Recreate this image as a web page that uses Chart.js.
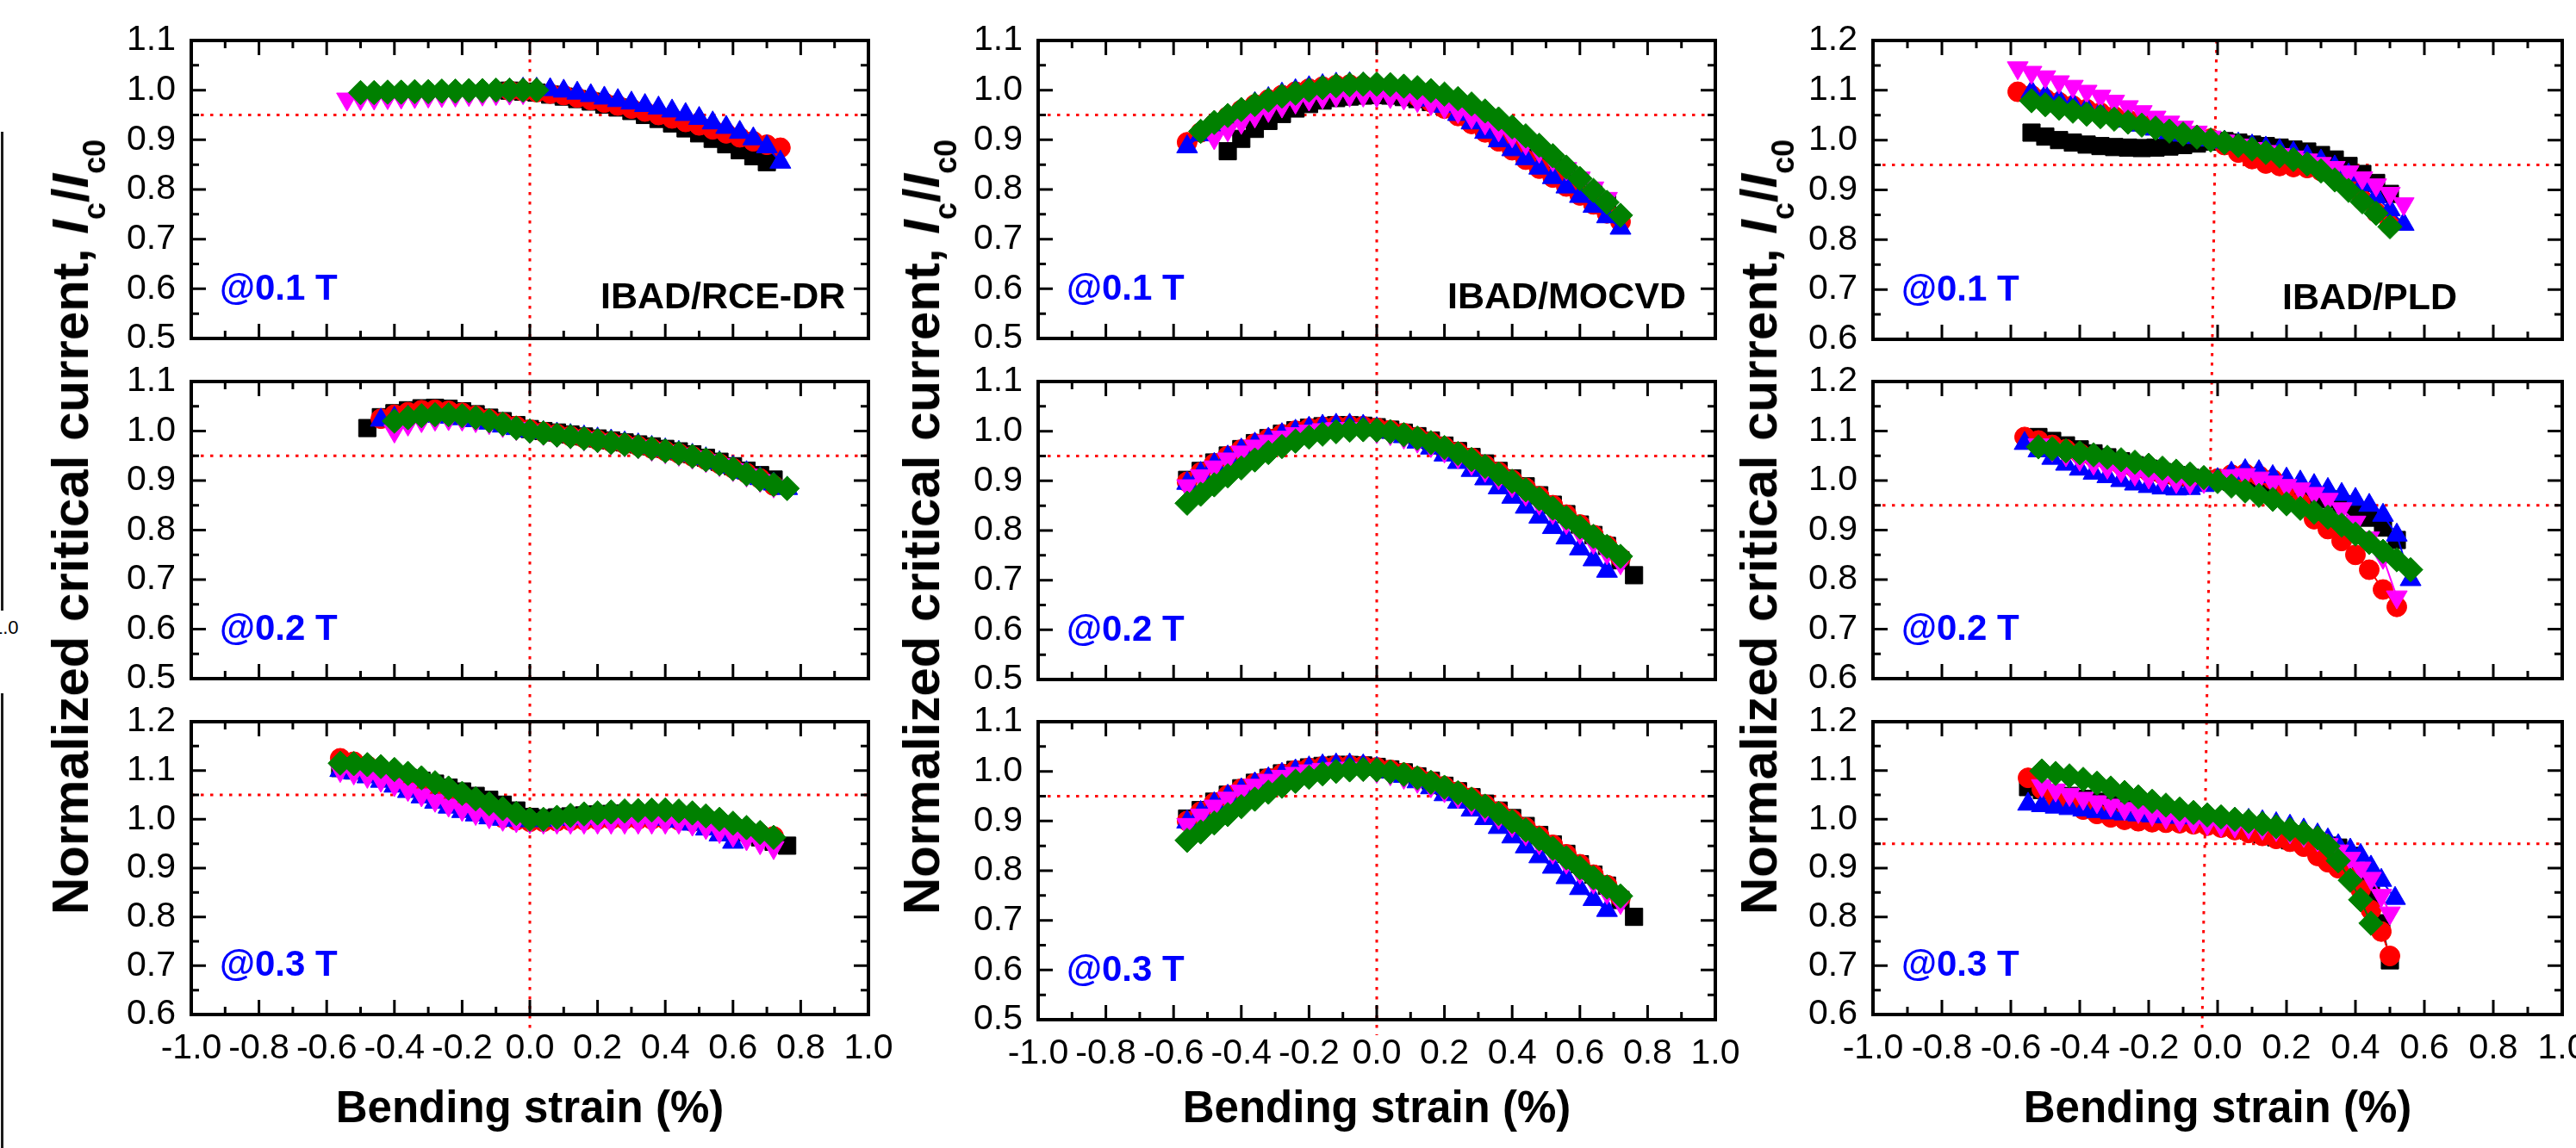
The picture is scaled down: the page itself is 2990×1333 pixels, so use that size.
<!DOCTYPE html>
<html><head><meta charset="utf-8">
<script src="https://cdn.jsdelivr.net/npm/chart.js@4.4.1/dist/chart.umd.min.js"></script>
<style>
html,body{margin:0;padding:0;background:#fff;}
body{width:2990px;height:1333px;position:relative;overflow:hidden;font-family:"Liberation Sans",Arial,sans-serif;}
canvas{position:absolute;}
.ytitle{position:absolute;white-space:nowrap;font-weight:bold;font-size:60px;line-height:60px;color:#000;transform:translate(-50%,-50%) rotate(-90deg);z-index:5;}
.ytitle .sb{font-size:36px;position:relative;top:20px;}
.stray{position:absolute;background:#1a1a1a;width:3px;left:1px;}
.strayTxt{position:absolute;left:-9px;top:716px;font-size:22px;color:#000;}
</style></head><body>
<div class="stray" style="top:153px;height:556px"></div>
<div class="stray" style="top:805px;height:528px"></div>
<div class="strayTxt">1.0</div>
<div class="ytitle" style="left:86px;top:612px">Normalized critical current, <i>I</i><span class="sb">c</span>/<i>I</i><span class="sb">c0</span></div>
<div class="ytitle" style="left:1074px;top:612px">Normalized critical current, <i>I</i><span class="sb">c</span>/<i>I</i><span class="sb">c0</span></div>
<div class="ytitle" style="left:2046px;top:612px">Normalized critical current, <i>I</i><span class="sb">c</span>/<i>I</i><span class="sb">c0</span></div>
<script>
// ---------------- DATA ----------------
const fieldLabels = ['@0.1 T', '@0.2 T', '@0.3 T'];
const sampleLabels = ['IBAD/RCE-DR', 'IBAD/MOCVD', 'IBAD/PLD'];
const xTitle = 'Bending strain (%)';
const yMinByPanel = [[0.5, 0.5, 0.6], [0.5, 0.5, 0.5], [0.6, 0.6, 0.6]];
const yMaxByPanel = [[1.1, 1.1, 1.2], [1.1, 1.1, 1.1], [1.2, 1.2, 1.2]];
const refLineY = [[0.95, 0.95, 1.05], [0.95, 0.95, 0.95], [0.95, 0.95, 0.95]];
const zeroLineX = [[[0, 0], [0, 0], [0, 0]], [[0, 0], [0, 0], [0, 0]], [[-0.003, -0.017], [-0.017, -0.032], [-0.032, -0.045]]];

// IBAD/RCE-DR @0.1 T
const rce1_x = [-0.54,-0.50,-0.46,-0.42,-0.38,-0.34,-0.30,-0.26,-0.22,-0.18,-0.14,-0.10,-0.06,-0.02,0.02,0.06,0.10,0.14,0.18,0.22,0.26,0.30,0.34,0.38,0.42,0.46,0.50,0.54,0.58,0.62,0.66,0.70,0.74];
const rce1_k = [null,null,null,null,null,null,null,null,null,null,null,null,0.999,0.997,0.995,0.991,0.987,0.982,0.977,0.971,0.965,0.958,0.950,0.942,0.933,0.923,0.913,0.902,0.891,0.879,0.867,0.855,null];
const rce1_r = [null,null,null,null,null,null,null,null,null,null,null,null,0.999,0.998,0.996,0.993,0.990,0.985,0.980,0.975,0.969,0.963,0.957,0.950,0.943,0.936,0.929,0.921,0.913,0.905,0.897,0.890,0.884];
const rce1_b = [null,null,null,null,null,null,null,null,null,null,null,null,1.000,1.002,1.002,1.001,0.998,0.994,0.989,0.984,0.979,0.974,0.969,0.964,0.958,0.951,0.943,0.934,0.925,0.915,0.902,0.886,0.855];
const rce1_m = [0.982,0.983,0.984,0.985,0.986,0.987,0.988,0.989,0.990,0.991,0.992,0.993,0.994,0.995,null,null,null,null,null,null,null,null,null,null,null,null,null,null,null,null,null,null,null];
const rce1_g = [null,0.995,0.995,0.996,0.996,0.997,0.997,0.998,0.998,0.999,0.999,1.000,1.000,1.000,1.000,null,null,null,null,null,null,null,null,null,null,null,null,null,null,null,null,null,null];

// IBAD/RCE-DR @0.2 T
const rce2_x = [-0.48,-0.44,-0.40,-0.36,-0.32,-0.28,-0.24,-0.20,-0.16,-0.12,-0.08,-0.04,0.00,0.04,0.08,0.12,0.16,0.20,0.24,0.28,0.32,0.36,0.40,0.44,0.48,0.52,0.56,0.60,0.64,0.68,0.72,0.76];
const rce2_k = [1.006,1.028,1.036,1.042,1.046,1.047,1.045,1.040,1.034,1.027,1.020,1.012,1.004,1.000,0.997,0.993,0.989,0.985,0.981,0.977,0.973,0.969,0.964,0.959,0.953,0.946,0.938,0.929,0.920,0.911,0.902,null];
const rce2_r = [null,1.025,1.033,1.038,1.042,1.043,1.041,1.037,1.031,1.024,1.017,1.010,1.003,0.998,0.994,0.990,0.986,0.982,0.978,0.974,0.970,0.965,0.960,0.955,0.949,0.942,0.934,0.925,0.915,0.904,0.890,null];
const rce2_b = [null,1.022,1.026,1.028,1.030,1.030,1.028,1.025,1.021,1.016,1.010,1.005,1.000,0.997,0.994,0.991,0.988,0.984,0.980,0.976,0.972,0.967,0.962,0.957,0.951,0.944,0.936,0.927,0.916,0.904,0.893,0.884];
const rce2_m = [null,null,1.000,1.014,1.021,1.024,1.025,1.024,1.021,1.017,1.011,1.005,0.999,0.995,0.991,0.988,0.984,0.980,0.976,0.972,0.968,0.963,0.958,0.953,0.947,0.940,0.932,0.922,0.911,0.900,0.889,null];
const rce2_g = [null,null,1.020,1.027,1.031,1.033,1.033,1.031,1.027,1.021,1.014,1.006,1.000,0.996,0.992,0.989,0.985,0.981,0.977,0.973,0.969,0.965,0.960,0.955,0.949,0.942,0.934,0.924,0.913,0.902,0.892,0.884];

// IBAD/RCE-DR @0.3 T
const rce3_x = [-0.56,-0.52,-0.48,-0.44,-0.40,-0.36,-0.32,-0.28,-0.24,-0.20,-0.16,-0.12,-0.08,-0.04,0.00,0.04,0.08,0.12,0.16,0.20,0.24,0.28,0.32,0.36,0.40,0.44,0.48,0.52,0.56,0.60,0.64,0.68,0.72,0.76];
const rce3_k = [1.105,1.100,1.096,1.093,1.089,1.085,1.079,1.073,1.065,1.057,1.048,1.040,1.030,1.018,1.005,1.002,1.004,1.006,1.008,1.010,1.011,1.012,1.012,1.012,1.010,1.007,1.003,0.997,0.990,0.982,0.973,0.963,0.954,0.946];
const rce3_r = [1.125,1.118,1.110,1.100,1.090,1.079,1.067,1.055,1.043,1.031,1.020,1.010,1.003,0.998,0.995,0.995,0.996,0.997,0.998,0.999,1.000,1.000,1.000,1.000,1.000,0.998,0.995,0.990,0.985,0.980,0.975,0.970,0.965,null];
const rce3_b = [1.100,1.095,1.087,1.078,1.068,1.057,1.046,1.035,1.025,1.016,1.009,1.003,1.000,0.998,0.997,0.998,1.000,1.001,1.002,1.003,1.004,1.004,1.004,1.003,1.000,0.996,0.990,0.980,0.968,0.953,null,null,null,null];
const rce3_m = [1.100,1.095,1.088,1.080,1.071,1.061,1.050,1.039,1.029,1.020,1.012,1.005,1.000,0.997,0.995,0.994,0.994,0.994,0.994,0.994,0.994,0.994,0.994,0.994,0.994,0.994,0.990,0.983,0.975,0.967,0.960,0.952,0.942,null];
const rce3_g = [1.115,1.114,1.112,1.108,1.102,1.094,1.085,1.075,1.064,1.053,1.042,1.032,1.022,1.012,1.000,1.000,1.004,1.008,1.011,1.013,1.015,1.017,1.018,1.019,1.019,1.017,1.013,1.007,1.000,0.992,0.983,0.973,0.963,null];

// IBAD/MOCVD @0.1 T
const moc1_x = [-0.56,-0.52,-0.48,-0.44,-0.40,-0.36,-0.32,-0.28,-0.24,-0.20,-0.16,-0.12,-0.08,-0.04,0.00,0.04,0.08,0.12,0.16,0.20,0.24,0.28,0.32,0.36,0.40,0.44,0.48,0.52,0.56,0.60,0.64,0.68,0.72];
const moc1_k = [null,null,null,0.877,0.902,0.922,0.938,0.952,0.963,0.972,0.979,0.984,0.987,0.989,0.990,0.989,0.986,0.982,0.976,0.968,0.958,0.947,0.934,0.920,0.904,0.887,0.869,0.850,0.830,0.810,0.790,0.775,null];
const moc1_r = [0.895,0.915,0.932,0.947,0.960,0.971,0.981,0.990,0.997,1.003,1.007,1.010,1.011,1.010,1.008,1.003,0.996,0.987,0.976,0.963,0.948,0.932,0.915,0.897,0.879,0.860,0.842,0.824,0.806,0.788,0.770,0.752,0.735];
const moc1_b = [0.886,0.910,0.930,0.947,0.961,0.973,0.983,0.992,0.999,1.005,1.009,1.012,1.013,1.012,1.010,1.005,0.999,0.990,0.980,0.967,0.951,0.934,0.915,0.898,0.880,0.862,0.843,0.824,0.805,0.786,0.766,0.745,0.722];
const moc1_m = [null,null,0.904,0.920,0.935,0.948,0.959,0.968,0.976,0.982,0.986,0.989,0.990,0.990,0.989,0.987,0.984,0.979,0.973,0.966,0.957,0.946,0.934,0.920,0.908,0.893,0.877,0.860,0.842,0.823,0.803,0.782,null];
const moc1_g = [null,0.917,0.935,0.949,0.961,0.971,0.980,0.988,0.994,1.000,1.005,1.009,1.011,1.012,1.012,1.011,1.008,1.005,0.999,0.992,0.983,0.972,0.958,0.942,0.926,0.908,0.889,0.868,0.845,0.822,0.798,0.774,0.748];

// IBAD/MOCVD @0.2 T
const moc2_x = [-0.56,-0.52,-0.48,-0.44,-0.40,-0.36,-0.32,-0.28,-0.24,-0.20,-0.16,-0.12,-0.08,-0.04,0.00,0.04,0.08,0.12,0.16,0.20,0.24,0.28,0.32,0.36,0.40,0.44,0.48,0.52,0.56,0.60,0.64,0.68,0.72,0.76];
const moc2_k = [0.902,0.920,0.937,0.951,0.964,0.976,0.986,0.995,1.002,1.007,1.010,1.012,1.012,1.011,1.008,1.003,0.997,0.990,0.981,0.971,0.960,0.948,0.935,0.920,0.905,0.889,0.871,0.852,0.833,0.812,0.791,0.769,0.740,0.710];
const moc2_r = [0.898,0.917,0.935,0.950,0.963,0.975,0.985,0.994,1.001,1.006,1.009,1.011,1.011,1.010,1.007,1.002,0.996,0.988,0.979,0.969,0.958,0.946,0.932,0.918,0.902,0.886,0.869,0.851,0.832,0.812,0.791,0.770,0.745,null];
const moc2_b = [0.895,0.915,0.933,0.948,0.962,0.974,0.984,0.993,1.000,1.006,1.010,1.012,1.012,1.010,1.005,0.998,0.989,0.978,0.966,0.952,0.937,0.921,0.904,0.886,0.867,0.847,0.827,0.806,0.785,0.763,0.741,0.718,null,null];
const moc2_m = [0.890,0.910,0.928,0.944,0.958,0.970,0.980,0.988,0.995,1.000,1.003,1.005,1.005,1.003,0.999,0.995,0.988,0.980,0.971,0.960,0.948,0.935,0.921,0.906,0.890,0.873,0.855,0.836,0.816,0.796,0.776,0.755,0.735,null];
const moc2_g = [0.855,0.873,0.892,0.910,0.926,0.942,0.957,0.969,0.980,0.988,0.994,0.999,1.002,1.003,1.002,0.999,0.993,0.986,0.977,0.967,0.955,0.943,0.929,0.914,0.899,0.882,0.864,0.845,0.826,0.807,0.788,0.768,0.748,null];

// IBAD/MOCVD @0.3 T
const moc3_x = [-0.56,-0.52,-0.48,-0.44,-0.40,-0.36,-0.32,-0.28,-0.24,-0.20,-0.16,-0.12,-0.08,-0.04,0.00,0.04,0.08,0.12,0.16,0.20,0.24,0.28,0.32,0.36,0.40,0.44,0.48,0.52,0.56,0.60,0.64,0.68,0.72,0.76];
const moc3_k = [0.905,0.922,0.939,0.953,0.966,0.977,0.987,0.996,1.003,1.008,1.011,1.013,1.013,1.012,1.009,1.004,0.998,0.990,0.981,0.971,0.960,0.948,0.935,0.921,0.906,0.890,0.872,0.853,0.834,0.813,0.792,0.770,0.741,0.707];
const moc3_r = [0.900,0.919,0.937,0.952,0.965,0.976,0.986,0.995,1.002,1.007,1.010,1.012,1.012,1.011,1.008,1.003,0.997,0.989,0.980,0.970,0.959,0.947,0.933,0.919,0.903,0.887,0.870,0.852,0.833,0.813,0.792,0.771,0.746,null];
const moc3_b = [0.898,0.917,0.935,0.950,0.963,0.975,0.985,0.994,1.001,1.007,1.011,1.013,1.013,1.011,1.006,0.999,0.990,0.979,0.967,0.953,0.938,0.922,0.905,0.887,0.868,0.848,0.828,0.807,0.786,0.764,0.742,0.720,null,null];
const moc3_m = [0.893,0.912,0.930,0.946,0.960,0.972,0.982,0.990,0.996,1.001,1.004,1.006,1.006,1.004,1.000,0.995,0.988,0.980,0.971,0.961,0.949,0.936,0.922,0.907,0.891,0.874,0.856,0.837,0.817,0.797,0.777,0.756,0.736,null];
const moc3_g = [0.861,0.878,0.896,0.913,0.929,0.944,0.958,0.970,0.980,0.988,0.995,1.000,1.003,1.004,1.003,0.999,0.994,0.987,0.978,0.968,0.957,0.944,0.930,0.915,0.899,0.882,0.864,0.845,0.826,0.806,0.786,0.767,0.749,null];

// IBAD/PLD @0.1 T
const pld1_x = [-0.58,-0.54,-0.50,-0.46,-0.42,-0.38,-0.34,-0.30,-0.26,-0.22,-0.18,-0.14,-0.10,-0.06,-0.02,0.02,0.06,0.10,0.14,0.18,0.22,0.26,0.30,0.34,0.38,0.42,0.46,0.50,0.54];
const pld1_k = [null,1.015,1.007,1.000,0.995,0.991,0.988,0.986,0.985,0.984,0.985,0.987,0.990,0.993,0.997,0.998,0.995,0.991,0.988,0.985,0.981,0.977,0.970,0.961,0.948,0.932,0.914,0.892,null];
const pld1_r = [1.097,1.090,1.083,1.076,1.069,1.062,1.055,1.048,1.041,1.034,1.027,1.020,1.014,1.009,1.003,0.990,0.975,0.962,0.953,0.948,0.946,0.944,0.938,0.925,0.905,0.880,0.855,0.830,null];
const pld1_b = [null,1.097,1.089,1.080,1.072,1.063,1.055,1.047,1.038,1.030,1.022,1.015,1.010,1.005,1.000,0.996,0.992,0.988,0.984,0.979,0.974,0.967,0.958,0.946,0.930,0.910,0.886,0.860,0.831];
const pld1_m = [1.145,1.136,1.127,1.117,1.108,1.098,1.088,1.078,1.067,1.057,1.046,1.036,1.026,1.016,1.006,0.998,0.990,0.983,0.977,0.971,0.966,0.960,0.953,0.945,0.936,0.924,0.910,0.893,0.872];
const pld1_g = [null,1.079,1.071,1.064,1.058,1.052,1.047,1.042,1.036,1.030,1.024,1.018,1.012,1.006,1.000,0.995,0.989,0.982,0.975,0.968,0.961,0.952,0.938,0.920,0.899,0.876,0.853,0.826,null];

// IBAD/PLD @0.2 T
const pld2_x = [-0.56,-0.52,-0.48,-0.44,-0.40,-0.36,-0.32,-0.28,-0.24,-0.20,-0.16,-0.12,-0.08,-0.04,0.00,0.04,0.08,0.12,0.16,0.20,0.24,0.28,0.32,0.36,0.40,0.44,0.48,0.52,0.56];
const pld2_k = [null,1.088,1.080,1.071,1.063,1.055,1.047,1.039,1.031,1.024,1.017,1.011,1.006,1.002,1.000,0.998,0.995,0.992,0.988,0.983,0.977,0.970,0.962,0.952,0.940,0.925,0.905,0.880,null];
const pld2_r = [1.088,1.081,1.072,1.063,1.055,1.047,1.040,1.032,1.025,1.018,1.012,1.007,1.004,1.003,1.004,1.012,1.014,1.010,1.002,0.985,0.955,0.922,0.902,0.878,0.850,0.820,0.780,0.745,null];
const pld2_b = [1.075,1.060,1.045,1.033,1.023,1.015,1.008,1.000,0.993,0.988,0.985,0.983,0.984,0.990,1.002,1.015,1.020,1.018,1.008,1.003,0.997,0.990,0.982,0.972,0.962,0.950,0.930,0.890,0.800];
const pld2_m = [null,1.072,1.062,1.052,1.043,1.035,1.027,1.020,1.013,1.007,1.002,0.998,0.996,0.998,1.003,1.010,1.012,1.005,0.997,0.990,0.983,0.974,0.962,0.943,0.916,0.884,0.845,0.765,null];
const pld2_g = [null,1.068,1.064,1.060,1.056,1.052,1.047,1.042,1.037,1.031,1.025,1.019,1.013,1.006,0.998,0.989,0.979,0.970,0.962,0.953,0.944,0.936,0.926,0.910,0.892,0.875,0.857,0.840,0.820];

// IBAD/PLD @0.3 T
const pld3_x = [-0.55,-0.51,-0.47,-0.43,-0.39,-0.35,-0.31,-0.27,-0.23,-0.19,-0.15,-0.11,-0.07,-0.03,0.01,0.05,0.09,0.13,0.17,0.21,0.25,0.29,0.32,0.35,0.385,0.415,0.445,0.475,0.50,0.515];
const pld3_k = [1.066,1.060,1.054,1.048,1.042,1.036,1.030,1.025,1.020,1.015,1.011,1.007,1.003,0.998,0.993,0.985,0.977,0.970,0.963,0.957,0.952,0.948,0.946,0.942,0.925,0.890,0.845,0.787,0.711,null];
const pld3_r = [1.085,1.062,1.045,1.032,1.020,1.011,1.004,0.999,0.996,0.994,0.993,0.992,0.990,0.987,0.983,0.978,0.972,0.966,0.960,0.954,0.944,0.925,0.912,0.900,0.880,0.856,0.814,0.770,0.720,null];
const pld3_b = [1.031,1.028,1.025,1.022,1.019,1.016,1.013,1.011,1.009,1.007,1.005,1.004,1.003,1.002,1.001,1.000,0.998,0.995,0.991,0.986,0.978,0.968,0.958,0.946,0.937,0.926,0.902,0.875,null,0.838];
const pld3_m = [null,1.069,1.060,1.051,1.043,1.036,1.029,1.022,1.016,1.010,1.004,0.999,0.995,0.991,0.988,0.986,0.984,0.982,0.979,0.974,0.967,0.958,0.948,0.935,0.920,0.900,0.879,0.844,0.808,null];
const pld3_g = [null,1.099,1.094,1.089,1.082,1.074,1.064,1.055,1.046,1.037,1.029,1.021,1.014,1.009,1.005,1.000,0.996,0.991,0.985,0.979,0.972,0.962,0.945,0.915,0.875,0.835,0.787,null,null,null];

// ---------------- LAYOUT / STYLE ----------------
const panelData = [
  [[rce1_x, rce1_k, rce1_r, rce1_b, rce1_m, rce1_g], [rce2_x, rce2_k, rce2_r, rce2_b, rce2_m, rce2_g], [rce3_x, rce3_k, rce3_r, rce3_b, rce3_m, rce3_g]],
  [[moc1_x, moc1_k, moc1_r, moc1_b, moc1_m, moc1_g], [moc2_x, moc2_k, moc2_r, moc2_b, moc2_m, moc2_g], [moc3_x, moc3_k, moc3_r, moc3_b, moc3_m, moc3_g]],
  [[pld1_x, pld1_k, pld1_r, pld1_b, pld1_m, pld1_g], [pld2_x, pld2_k, pld2_r, pld2_b, pld2_m, pld2_g], [pld3_x, pld3_k, pld3_r, pld3_b, pld3_m, pld3_g]]
];
const colL = [222, 1205, 2174], colR = [1008, 1991, 2974];
const rowTB = [[[47, 393], [443, 788], [838, 1178]], [[47, 393], [443, 789], [838, 1184]], [[47, 394], [443, 788], [838, 1178]]];
const seriesStyle = [
  {color: '#000000', style: 'rect', radius: 14.2, rot: 0, order: 5},
  {color: '#ff0000', style: 'circle', radius: 11.5, rot: 0, order: 4},
  {color: '#0000ff', style: 'triangle', radius: 14, rot: 0, order: 3},
  {color: '#ff00ff', style: 'triangle', radius: 14, rot: 180, order: 2},
  {color: '#008000', style: 'rectRot', radius: 14.2, rot: 0, order: 1}
];
const FONT = 'Liberation Sans';

function toPts(xs, ys) {
  const out = [];
  for (let i = 0; i < xs.length; i++) if (ys[i] !== null && ys[i] !== undefined) out.push({x: xs[i], y: ys[i]});
  return out;
}
const fmt = v => (Math.abs(v) < 1e-9 ? 0 : v).toFixed(1);

const framePlugin = {
  id: 'frame',
  afterDatasetsDraw(chart) {
    const {ctx, chartArea: a, scales: {x, y}} = chart;
    ctx.save();
    ctx.strokeStyle = '#000';
    ctx.lineWidth = 3;
    const xv = x.ticks.map(t => t.value), yv = y.ticks.map(t => t.value);
    const xm = [], ym = [];
    for (let i = 0; i < xv.length - 1; i++) xm.push((xv[i] + xv[i + 1]) / 2);
    for (let i = 0; i < yv.length - 1; i++) ym.push((yv[i] + yv[i + 1]) / 2);
    ctx.beginPath();
    const tk = (vals, len, horiz) => vals.forEach(v => {
      if (horiz) {
        const px = x.getPixelForValue(v);
        ctx.moveTo(px, a.bottom); ctx.lineTo(px, a.bottom - len);
        ctx.moveTo(px, a.top); ctx.lineTo(px, a.top + len);
      } else {
        const py = y.getPixelForValue(v);
        ctx.moveTo(a.left, py); ctx.lineTo(a.left + len, py);
        ctx.moveTo(a.right, py); ctx.lineTo(a.right - len, py);
      }
    });
    tk(xv, 17, true); tk(xm, 9, true); tk(yv, 17, false); tk(ym, 9, false);
    ctx.stroke();
    ctx.lineWidth = 4;
    ctx.strokeRect(a.left, a.top, a.right - a.left, a.bottom - a.top);
    ctx.restore();
  }
};
const notePlugin = {
  id: 'notes',
  afterDraw(chart, args, opts) {
    const {ctx, chartArea: a} = chart;
    ctx.save();
    ctx.textBaseline = 'alphabetic'; ctx.textAlign = 'left';
    ctx.font = 'bold 42px "' + FONT + '"'; ctx.fillStyle = '#0000ff';
    ctx.fillText(opts.field, a.left + 33, a.bottom - 45);
    if (opts.sample) {
      ctx.font = 'bold 43px "' + FONT + '"'; ctx.fillStyle = '#000';
      ctx.fillText(opts.sample, a.left + 475, a.bottom - 35);
    }
    ctx.restore();
  }
};

for (let c = 0; c < 3; c++) {
  for (let r = 0; r < 3; r++) {
    const L = colL[c], R = colR[c], T = rowTB[c][r][0], B = rowTB[c][r][1];
    const yW = 170, padT = 30, padR = 40;
    const xH = r < 2 ? 50 : 1333 - B;
    const W = (R - L) + yW + padR, H = (B - T) + padT + xH;
    const cv = document.createElement('canvas');
    cv.width = W; cv.height = H;
    cv.style.left = (L - yW) + 'px'; cv.style.top = (T - padT) + 'px';
    cv.style.width = W + 'px'; cv.style.height = H + 'px';
    document.body.appendChild(cv);
    const ymin = yMinByPanel[c][r], ymax = yMaxByPanel[c][r];
    const pxPerUnit = (B - T) / (ymax - ymin);
    const ext = (r < 2 ? 50 : 18) / pxPerUnit;
    const pd = panelData[c][r];
    const xs = pd[0];
    const datasets = [];
    datasets.push({data: [{x: -1, y: refLineY[c][r]}, {x: 1, y: refLineY[c][r]}], showLine: true, borderColor: '#ff0000', borderWidth: 3, borderDash: [3.5, 7.5], pointRadius: 0, order: 10});
    datasets.push({data: [{x: zeroLineX[c][r][0], y: ymax}, {x: zeroLineX[c][r][1], y: ymin - ext}], showLine: true, borderColor: '#ff0000', borderWidth: 3, borderDash: [3.5, 7.5], pointRadius: 0, order: 11, clip: false});
    for (let s = 0; s < 5; s++) {
      const st = seriesStyle[s];
      datasets.push({
        data: toPts(xs, pd[s + 1]), showLine: true, borderColor: st.color, backgroundColor: st.color, borderWidth: 2,
        pointStyle: st.style, pointRadius: st.radius, pointHoverRadius: st.radius, pointRotation: st.rot,
        pointBackgroundColor: st.color, pointBorderColor: st.color, pointBorderWidth: 1, order: st.order
      });
    }
    new Chart(cv, {
      type: 'scatter',
      data: {datasets},
      plugins: [framePlugin, notePlugin],
      options: {
        responsive: false, animation: false, devicePixelRatio: 1, events: [],
        layout: {padding: {left: 0, top: padT, right: padR, bottom: 0}},
        plugins: {legend: {display: false}, tooltip: {enabled: false}, notes: {field: fieldLabels[r], sample: r === 0 ? sampleLabels[c] : null}},
        scales: {
          x: {
            type: 'linear', min: -1, max: 1,
            grid: {display: false, drawTicks: false}, border: {display: false},
            ticks: {display: r === 2, stepSize: 0.2, padding: 15, autoSkip: false, minRotation: 0, maxRotation: 0, color: '#000', font: {family: FONT, size: 41}, callback: fmt},
            title: {display: r === 2, text: xTitle, color: '#000', font: {family: FONT, size: 51, weight: 'bold'}, padding: {top: 0, bottom: 13}},
            afterFit(s) { s.height = xH; s.paddingLeft = 0; s.paddingRight = 0; s.paddingTop = 0; s.paddingBottom = 0; }
          },
          y: {
            type: 'linear', min: ymin, max: ymax,
            grid: {display: false, drawTicks: false}, border: {display: false},
            ticks: {stepSize: 0.1, padding: 18, autoSkip: false, color: '#000', font: {family: FONT, size: 41}, callback: fmt},
            afterFit(s) { s.width = yW; s.paddingLeft = 0; s.paddingRight = 0; s.paddingTop = 0; s.paddingBottom = 0; }
          }
        }
      }
    });
  }
}
</script>
</body></html>
